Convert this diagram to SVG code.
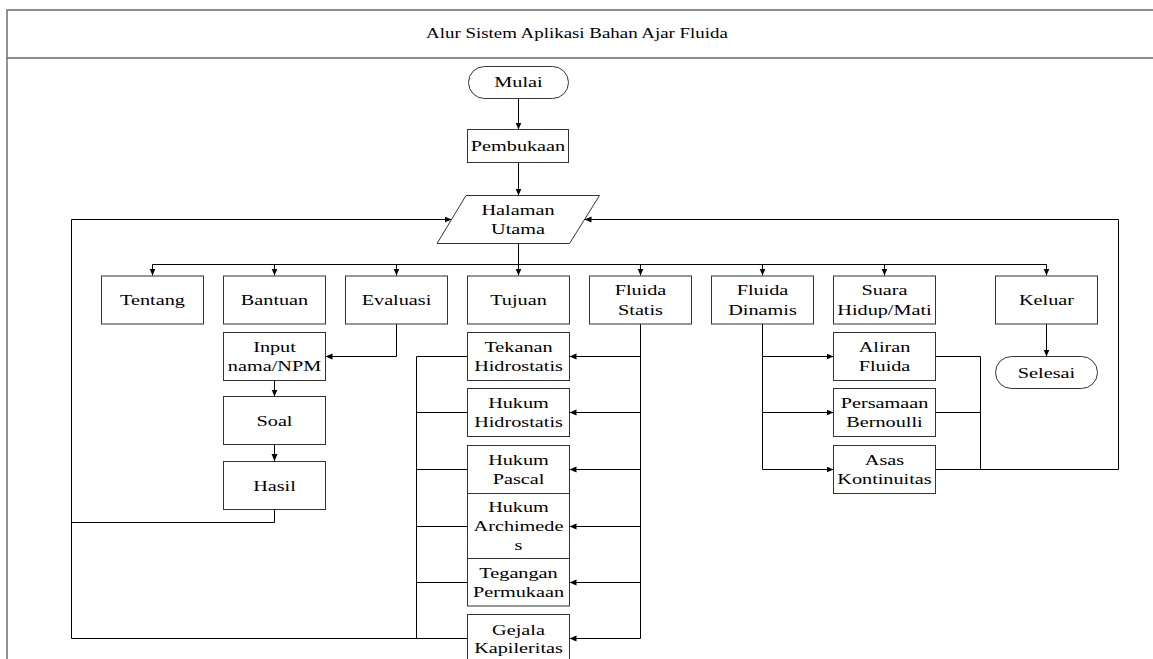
<svg xmlns="http://www.w3.org/2000/svg" width="1153" height="659" viewBox="0 0 1153 659">
<style>
.frame{fill:none;stroke:#666;stroke-width:1.4}
.box{fill:#fff;stroke:#333;stroke-width:1}
.c{fill:none;stroke:#000;stroke-width:1}
.ca{fill:none;stroke:#000;stroke-width:1;marker-end:url(#ah)}
text{font-family:"Liberation Serif","Times New Roman",serif;font-size:15px;text-anchor:middle;fill:#000}
.title{font-size:14px}
</style>
<defs>
<marker id="ah" markerUnits="userSpaceOnUse" markerWidth="8" markerHeight="8" refX="7" refY="3" orient="auto">
<path d="M0,0 L7,3 L0,6 z" fill="#000"/>
</marker>
</defs>
<rect width="1153" height="659" fill="#fff"/>
<g id="frame">
<path class="frame" d="M7,659 V10 H1153 M7,58 H1153"/>
<text class="title" transform="translate(577,38) scale(1.35 1)">Alur Sistem Aplikasi Bahan Ajar Fluida</text>
</g>
<g id="connectors">
<path class="ca" d="M518.5,98 V129.5"/>
<path class="ca" d="M518.5,162.5 V195.5"/>
<path class="c" d="M518.5,243.5 V264.5 M152.5,264.5 H1046.5"/>
<path class="ca" d="M152.5,264.5 V275.5"/>
<path class="ca" d="M274.5,264.5 V275.5"/>
<path class="ca" d="M396.5,264.5 V275.5"/>
<path class="ca" d="M518.5,264.5 V275.5"/>
<path class="ca" d="M640.5,264.5 V275.5"/>
<path class="ca" d="M762.5,264.5 V275.5"/>
<path class="ca" d="M884.5,264.5 V275.5"/>
<path class="ca" d="M1046.5,264.5 V275.5"/>
<path class="ca" d="M396.5,324 V356.5 H325.5"/>
<path class="ca" d="M274.5,380.5 V396.5"/>
<path class="ca" d="M274.5,444.5 V461"/>
<path class="c" d="M274.5,509.5 V522.5 H71.5"/>
<path class="ca" d="M71.5,638.5 V219.5 H451.5"/>
<path class="c" d="M640.5,324 V638.5"/>
<path class="ca" d="M640.5,356.5 H569.5"/>
<path class="ca" d="M640.5,412.5 H569.5"/>
<path class="ca" d="M640.5,469.5 H569.5"/>
<path class="ca" d="M640.5,526.5 H569.5"/>
<path class="ca" d="M640.5,582.5 H569.5"/>
<path class="ca" d="M640.5,638.5 H569.5"/>
<path class="c" d="M467.5,356.5 H416.5 V638.5 M467.5,412.5 H416.5 M467.5,469.5 H416.5 M467.5,526.5 H416.5 M467.5,582.5 H416.5 M467.5,638.5 H71.5"/>
<path class="c" d="M762.5,324 V469.5"/>
<path class="ca" d="M762.5,356.5 H833.5"/>
<path class="ca" d="M762.5,412.5 H833.5"/>
<path class="ca" d="M762.5,469.5 H833.5"/>
<path class="c" d="M935.5,356.5 H980.5 V469.5 M935.5,412.5 H980.5 M935.5,469.5 H1118.5 V219.5"/>
<path class="ca" d="M1118.5,219.5 H584.5"/>
<path class="ca" d="M1046.5,324 V356.5"/>
</g>
<g id="mulai"><rect class="box" x="468.5" y="66.5" width="100" height="32" rx="16"/><text transform="translate(518.5,87) scale(1.35 1)">Mulai</text></g>
<g id="pembukaan"><rect class="box" x="467.5" y="129.5" width="101" height="33"/><text transform="translate(518,151) scale(1.35 1)">Pembukaan</text></g>
<g id="halaman"><path class="box" d="M466,195.5 H599.5 L569.5,243.5 H437 Z"/><text transform="translate(518,215) scale(1.35 1)"><tspan x="0" y="0">Halaman</tspan><tspan x="0" y="19">Utama</tspan></text></g>
<g id="tentang"><rect class="box" x="101.5" y="276" width="102" height="48"/><text transform="translate(152.5,305) scale(1.35 1)">Tentang</text></g>
<g id="bantuan"><rect class="box" x="223.5" y="276" width="102" height="48"/><text transform="translate(274.5,305) scale(1.35 1)">Bantuan</text></g>
<g id="evaluasi"><rect class="box" x="345.5" y="276" width="102" height="48"/><text transform="translate(396.5,305) scale(1.35 1)">Evaluasi</text></g>
<g id="tujuan"><rect class="box" x="467.5" y="276" width="102" height="48"/><text transform="translate(518.5,305) scale(1.35 1)">Tujuan</text></g>
<g id="fluida-statis"><rect class="box" x="589.5" y="276" width="102" height="48"/><text transform="translate(640.5,295) scale(1.35 1)"><tspan x="0" y="0">Fluida</tspan><tspan x="0" y="20">Statis</tspan></text></g>
<g id="fluida-dinamis"><rect class="box" x="711.5" y="276" width="102" height="48"/><text transform="translate(762.5,295) scale(1.35 1)"><tspan x="0" y="0">Fluida</tspan><tspan x="0" y="20">Dinamis</tspan></text></g>
<g id="suara"><rect class="box" x="833.5" y="276" width="102" height="48"/><text transform="translate(884.5,295) scale(1.35 1)"><tspan x="0" y="0">Suara</tspan><tspan x="0" y="20">Hidup/Mati</tspan></text></g>
<g id="keluar"><rect class="box" x="995.5" y="276" width="102" height="48"/><text transform="translate(1046.5,305) scale(1.35 1)">Keluar</text></g>
<g id="input"><rect class="box" x="223.5" y="332.5" width="102" height="48"/><text transform="translate(274.5,351.5) scale(1.35 1)"><tspan x="0" y="0">Input</tspan><tspan x="0" y="20">nama/NPM</tspan></text></g>
<g id="soal"><rect class="box" x="223.5" y="396.5" width="102" height="48"/><text transform="translate(274.5,425.5) scale(1.35 1)">Soal</text></g>
<g id="hasil"><rect class="box" x="223.5" y="461.5" width="102" height="48"/><text transform="translate(274.5,490.5) scale(1.35 1)">Hasil</text></g>
<g id="tekanan"><rect class="box" x="467.5" y="332.5" width="102" height="48"/><text transform="translate(518.5,351.5) scale(1.35 1)"><tspan x="0" y="0">Tekanan</tspan><tspan x="0" y="20">Hidrostatis</tspan></text></g>
<g id="hukum-hidrostatis"><rect class="box" x="467.5" y="388.5" width="102" height="48"/><text transform="translate(518.5,407.5) scale(1.35 1)"><tspan x="0" y="0">Hukum</tspan><tspan x="0" y="20">Hidrostatis</tspan></text></g>
<g id="hukum-pascal"><rect class="box" x="467.5" y="445.5" width="102" height="48"/><text transform="translate(518.5,464.5) scale(1.35 1)"><tspan x="0" y="0">Hukum</tspan><tspan x="0" y="20">Pascal</tspan></text></g>
<g id="hukum-archimedes"><rect class="box" x="467.5" y="493.5" width="102" height="65"/><text transform="translate(518.5,511.5) scale(1.35 1)"><tspan x="0" y="0">Hukum</tspan><tspan x="0" y="20">Archimede</tspan><tspan x="0" y="39">s</tspan></text></g>
<g id="tegangan"><rect class="box" x="467.5" y="558.5" width="102" height="47.5"/><text transform="translate(518.5,577.5) scale(1.35 1)"><tspan x="0" y="0">Tegangan</tspan><tspan x="0" y="20">Permukaan</tspan></text></g>
<g id="gejala"><rect class="box" x="467.5" y="614.5" width="102" height="50"/><text transform="translate(518.5,635) scale(1.35 1)"><tspan x="0" y="0">Gejala</tspan><tspan x="0" y="18.5">Kapileritas</tspan></text></g>
<g id="aliran"><rect class="box" x="833.5" y="332.5" width="102" height="48"/><text transform="translate(884.5,351.5) scale(1.35 1)"><tspan x="0" y="0">Aliran</tspan><tspan x="0" y="20">Fluida</tspan></text></g>
<g id="persamaan"><rect class="box" x="833.5" y="388.5" width="102" height="48"/><text transform="translate(884.5,407.5) scale(1.35 1)"><tspan x="0" y="0">Persamaan</tspan><tspan x="0" y="20">Bernoulli</tspan></text></g>
<g id="asas"><rect class="box" x="833.5" y="445.5" width="102" height="48"/><text transform="translate(884.5,464.5) scale(1.35 1)"><tspan x="0" y="0">Asas</tspan><tspan x="0" y="20">Kontinuitas</tspan></text></g>
<g id="selesai"><rect class="box" x="995.5" y="356.5" width="102" height="32" rx="16"/><text transform="translate(1046.5,377.5) scale(1.35 1)">Selesai</text></g>
</svg>
